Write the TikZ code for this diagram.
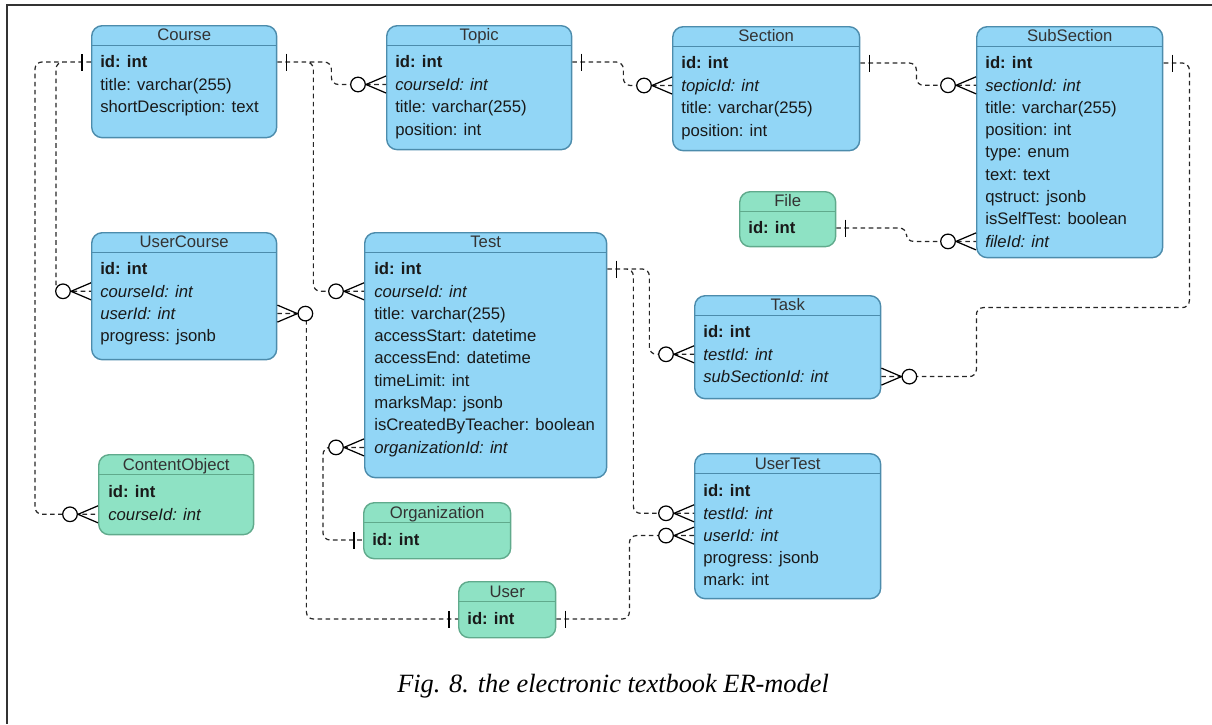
\documentclass[tikz,border=0pt]{standalone}
\usepackage{fontspec}
\setmainfont{Liberation Sans}
\newfontfamily\capfont{Liberation Serif}
\usetikzlibrary{calc, positioning}

\definecolor{entblue}{RGB}{146,214,246}
\definecolor{entbluedraw}{RGB}{76,140,172}
\definecolor{entgreen}{RGB}{142,226,196}
\definecolor{entgreendraw}{RGB}{96,170,140}

\begin{document}
\begin{tikzpicture}[x=0.02cm, y=-0.02cm,
		many/.pic={\draw[line width=0.7pt] (0,8.5) -- (20,0) -- (0,-8.5);
			\draw[line width=0.7pt, fill=white] (28,0) circle[radius=7.3];},
		one/.pic={\draw[line width=0.7pt] (9,-8.5) -- (9,8.5);}]
	\tikzstyle{bluebox} = [draw=entbluedraw, fill=entblue, line width=0.8pt, rounded corners=6pt, anchor=north west, inner sep=0pt,
		path picture={\draw[entbluedraw, line width=0.8pt] ([yshift=-0.4cm]path picture bounding box.north west) -- ([yshift=-0.4cm]path picture bounding box.north east);}]
	\tikzstyle{greenbox} = [draw=entgreendraw, fill=entgreen, line width=0.8pt, rounded corners=6pt, anchor=north west, inner sep=0pt,
		path picture={\draw[entgreendraw, line width=0.8pt] ([yshift=-0.4cm]path picture bounding box.north west) -- ([yshift=-0.4cm]path picture bounding box.north east);}]
	\tikzstyle{head} = [inner sep=0pt, text height=7pt, text depth=0.5pt, text=black!80, font=\fontsize{9.5}{11}\selectfont]
	\tikzstyle{field} = [anchor=west, inner sep=0pt, text height=7pt, text depth=0.5pt, text=black!90, font=\fontsize{9.5}{11}\selectfont]
	\tikzstyle{link} = [draw=black!85, dash pattern=on 2.6pt off 2pt, line width=0.7pt, rounded corners=4pt]

	\useasboundingbox (0,0) rectangle (1212,724);
	\draw[line width=1.1pt, black!80] (1212,5) -| (7,724);

	% Course
	\node[bluebox, minimum width=3.7cm, minimum height=2.24cm] at (91,25) (course) {};
	\node[head, below=1.9pt of course.north] (course-h) {Course};
	\node[field] at (100,62) (course-id) {\textbf{id: int}};
	\node[field] at (100,84.5) (course-title) {title: varchar(255)};
	\node[field] at (100,107) (course-desc) {shortDescription: text};

	% Topic
	\node[bluebox, minimum width=3.7cm, minimum height=2.48cm] at (386,25) (topic) {};
	\node[head, below=1.9pt of topic.north] (topic-h) {Topic};
	\node[field] at (395,62) (topic-id) {\textbf{id: int}};
	\node[field] at (395,84.5) (topic-course) {\itshape courseId: int};
	\node[field] at (395,107) (topic-title) {title: varchar(255)};
	\node[field] at (395,129.5) (topic-pos) {position: int};

	% Section
	\node[bluebox, minimum width=3.74cm, minimum height=2.48cm] at (672,26) (section) {};
	\node[head, below=1.9pt of section.north] (section-h) {Section};
	\node[field] at (681,63) (section-id) {\textbf{id: int}};
	\node[field] at (681,85.5) (section-topic) {\itshape topicId: int};
	\node[field] at (681,108) (section-title) {title: varchar(255)};
	\node[field] at (681,130.5) (section-pos) {position: int};

	% SubSection
	\node[bluebox, minimum width=3.72cm, minimum height=4.62cm] at (976,26) (subsection) {};
	\node[head, below=1.9pt of subsection.north] (subsection-h) {SubSection};
	\node[field] at (985,63) (subsection-id) {\textbf{id: int}};
	\node[field] at (985,85.3) (subsection-section) {\itshape sectionId: int};
	\node[field] at (985,107.6) (subsection-title) {title: varchar(255)};
	\node[field] at (985,129.9) (subsection-pos) {position: int};
	\node[field] at (985,152.2) (subsection-type) {type: enum};
	\node[field] at (985,174.5) (subsection-text) {text: text};
	\node[field] at (985,196.8) (subsection-qstruct) {qstruct: jsonb};
	\node[field] at (985,219.1) (subsection-selftest) {isSelfTest: boolean};
	\node[field] at (985,241.4) (subsection-file) {\itshape fileId: int};

	% File
	\node[greenbox, minimum width=1.92cm, minimum height=1.1cm] at (739,191) (file) {};
	\node[head, below=1.9pt of file.north] (file-h) {File};
	\node[field] at (748,228) (file-id) {\textbf{id: int}};

	% UserCourse
	\node[bluebox, minimum width=3.7cm, minimum height=2.54cm] at (91,232) (usercourse) {};
	\node[head, below=1.9pt of usercourse.north] (usercourse-h) {UserCourse};
	\node[field] at (100,269) (usercourse-id) {\textbf{id: int}};
	\node[field] at (100,291.3) (usercourse-course) {\itshape courseId: int};
	\node[field] at (100,313.6) (usercourse-user) {\itshape userId: int};
	\node[field] at (100,335.9) (usercourse-progress) {progress: jsonb};

	% Test
	\node[bluebox, minimum width=4.84cm, minimum height=4.9cm] at (364,232) (test) {};
	\node[head, below=1.9pt of test.north] (test-h) {Test};
	\node[field] at (374,269) (test-id) {\textbf{id: int}};
	\node[field] at (374,291.3) (test-course) {\itshape courseId: int};
	\node[field] at (374,313.6) (test-title) {title: varchar(255)};
	\node[field] at (374,335.9) (test-start) {accessStart: datetime};
	\node[field] at (374,358.2) (test-end) {accessEnd: datetime};
	\node[field] at (374,380.5) (test-limit) {timeLimit: int};
	\node[field] at (374,402.8) (test-marks) {marksMap: jsonb};
	\node[field] at (374,425.1) (test-teacher) {isCreatedByTeacher: boolean};
	\node[field] at (374,447.4) (test-organization) {\itshape organizationId: int};

	% Task
	\node[bluebox, minimum width=3.72cm, minimum height=2.06cm] at (694,295) (task) {};
	\node[head, below=1.9pt of task.north] (task-h) {Task};
	\node[field] at (703,332) (task-id) {\textbf{id: int}};
	\node[field] at (703,354.3) (task-test) {\itshape testId: int};
	\node[field] at (703,376.6) (task-subsection) {\itshape subSectionId: int};

	% ContentObject
	\node[greenbox, minimum width=3.1cm, minimum height=1.6cm] at (98,454) (contentobject) {};
	\node[head, below=1.9pt of contentobject.north] (contentobject-h) {ContentObject};
	\node[field] at (108,492) (contentobject-id) {\textbf{id: int}};
	\node[field] at (108,514.3) (contentobject-course) {\itshape courseId: int};

	% Organization
	\node[greenbox, minimum width=2.94cm, minimum height=1.12cm] at (363,502) (organization) {};
	\node[head, below=1.9pt of organization.north] (organization-h) {Organization};
	\node[field] at (372,540) (organization-id) {\textbf{id: int}};

	% UserTest
	\node[bluebox, minimum width=3.72cm, minimum height=2.9cm] at (694,453) (usertest) {};
	\node[head, below=1.9pt of usertest.north] (usertest-h) {UserTest};
	\node[field] at (703,491) (usertest-id) {\textbf{id: int}};
	\node[field] at (703,513.3) (usertest-test) {\itshape testId: int};
	\node[field] at (703,535.6) (usertest-user) {\itshape userId: int};
	\node[field] at (703,557.9) (usertest-progress) {progress: jsonb};
	\node[field] at (703,580.2) (usertest-mark) {mark: int};

	% User
	\node[greenbox, minimum width=1.94cm, minimum height=1.12cm] at (458,581) (user) {};
	\node[head, below=1.9pt of user.north] (user-h) {User};
	\node[field] at (467,619) (user-id) {\textbf{id: int}};

	% relations
	\path[link]
	(course-id -| course.east) -- ++(54,0) |- (topic-course -| topic.west)
	(course-id -| course.east) -- ++(36,0) |- (test-course -| test.west)
	(course-id -| course.west) -- ++(-35,0) |- (usercourse-course -| usercourse.west)
	(course-id -| course.west) -- ++(-56,0) |- (contentobject-course -| contentobject.west)
	(usercourse-user -| usercourse.east) -- ++(29,0) |- (user-id -| user.west)
	(user-id -| user.east) -- ++(73,0) |- (usertest-user -| usertest.west)
	(test-id -| test.east) -- ++(42,0) |- (task-test -| task.west)
	(test-id -| test.east) -- ++(26,0) |- (usertest-test -| usertest.west)
	(task-subsection -| task.east) -- ++(95,0) -- ++(0,-69) -- ++(213,0) |- (subsection-id -| subsection.east)
	(topic-id -| topic.east) -- ++(51,0) |- (section-topic -| section.west)
	(section-id -| section.east) -- ++(56,0) |- (subsection-section -| subsection.west)
	(file-id -| file.east) -- ++(70,0) |- (subsection-file -| subsection.west)
	(test-organization -| test.west) -- ++(-41,0) |- (organization-id -| organization.west);

	\pic at (course-id -| course.east) {one};
	\pic[rotate=180] at (topic-course -| topic.west) {many};
	\pic[rotate=180] at (test-course -| test.west) {many};
	\pic[rotate=180] at (course-id -| course.west) {one};
	\pic[rotate=180] at (usercourse-course -| usercourse.west) {many};
	\pic[rotate=180] at (contentobject-course -| contentobject.west) {many};
	\pic at (usercourse-user -| usercourse.east) {many};
	\pic[rotate=180] at (user-id -| user.west) {one};
	\pic at (user-id -| user.east) {one};
	\pic[rotate=180] at (usertest-user -| usertest.west) {many};
	\pic at (test-id -| test.east) {one};
	\pic[rotate=180] at (task-test -| task.west) {many};
	\pic[rotate=180] at (usertest-test -| usertest.west) {many};
	\pic at (task-subsection -| task.east) {many};
	\pic at (subsection-id -| subsection.east) {one};
	\pic at (topic-id -| topic.east) {one};
	\pic[rotate=180] at (section-topic -| section.west) {many};
	\pic at (section-id -| section.east) {one};
	\pic[rotate=180] at (subsection-section -| subsection.west) {many};
	\pic at (file-id -| file.east) {one};
	\pic[rotate=180] at (subsection-file -| subsection.west) {many};
	\pic[rotate=180] at (test-organization -| test.west) {many};
	\pic[rotate=180] at (organization-id -| organization.west) {one};

	\node[font=\capfont\itshape\fontsize{15}{18}\selectfont] at (613,686) (caption) {Fig. 8. the electronic textbook ER-model};
\end{tikzpicture}
\end{document}
